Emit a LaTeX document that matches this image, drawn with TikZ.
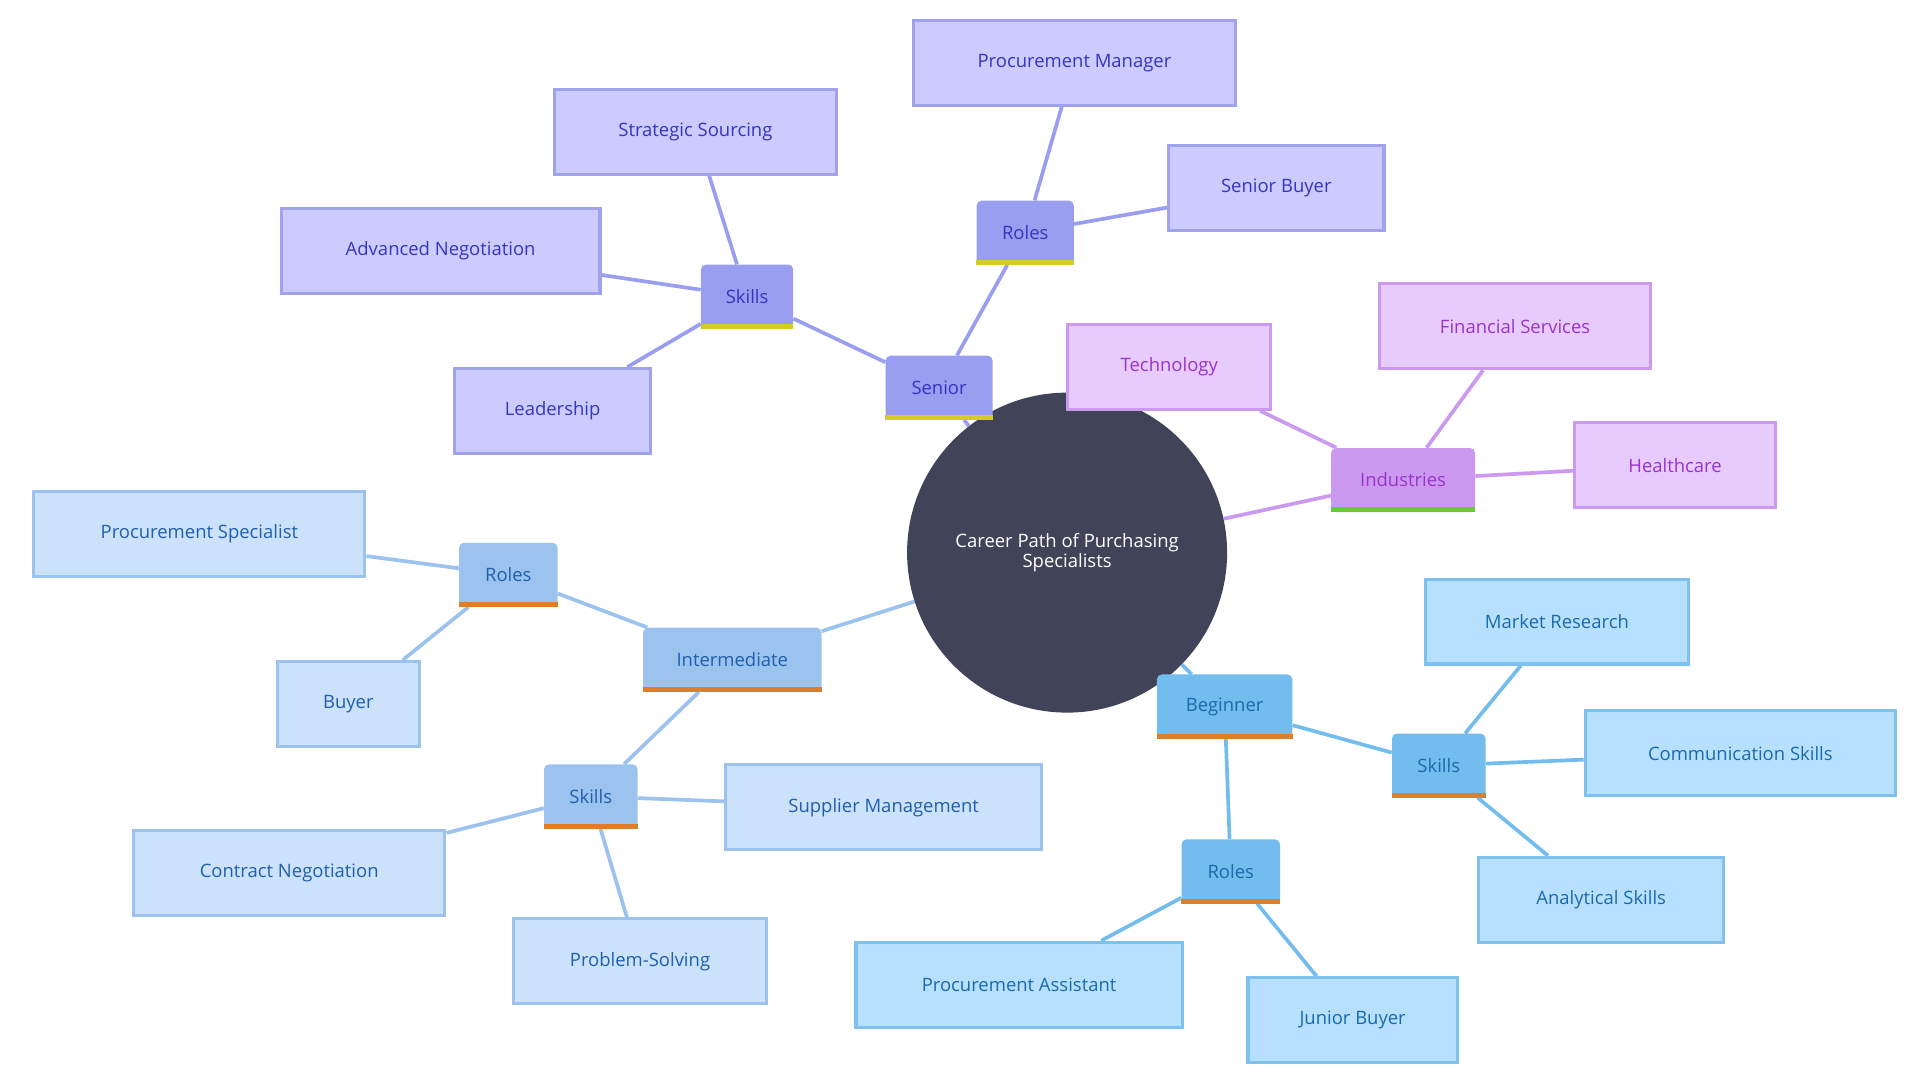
\documentclass[tikz,border=0pt]{standalone}
\usepackage{fontspec}
\setmainfont{Open Sans}
\usetikzlibrary{backgrounds}
\definecolor{cc}{HTML}{414359}
\definecolor{sL}{HTML}{9A9EF0}\definecolor{sF}{HTML}{CBCBFE}\definecolor{sB}{HTML}{A0A3EB}\definecolor{sT}{HTML}{3535C0}
\definecolor{iL}{HTML}{9CC2EE}\definecolor{iF}{HTML}{CCE1FA}\definecolor{iB}{HTML}{9CC2EE}\definecolor{iT}{HTML}{1F5FB0}
\definecolor{bL}{HTML}{72BCEE}\definecolor{bF}{HTML}{B7E0FE}\definecolor{bB}{HTML}{7EC0EE}\definecolor{bT}{HTML}{1A6AAA}
\definecolor{nL}{HTML}{CC99F0}\definecolor{nF}{HTML}{E8CBFD}\definecolor{nB}{HTML}{CC99EE}\definecolor{nT}{HTML}{9933CC}
\definecolor{yel}{HTML}{D4CC22}\definecolor{ora}{HTML}{DD7F2A}\definecolor{grn}{HTML}{66CC33}
\begin{document}
\begin{tikzpicture}[x=1pt,y=-1pt,
  font=\fontsize{15}{18}\selectfont,
  lvl/.style={rounded corners=4pt,inner sep=0pt,minimum height=52pt},
  leaf/.style={draw,line width=2.5pt,inner sep=0pt,minimum height=69pt},
  S/.style={fill=sL,text=sT},SL/.style={leaf,fill=sF,draw=sB,text=sT},Se/.style={draw=sL,line width=3pt},
  I/.style={fill=iL,text=iT},IL/.style={leaf,fill=iF,draw=iB,text=iT},Ie/.style={draw=iL,line width=3pt},
  B/.style={fill=bL,text=bT},BL/.style={leaf,fill=bF,draw=bB,text=bT},Be/.style={draw=bL,line width=3pt},
  N/.style={fill=nL,text=nT},NL/.style={leaf,fill=nF,draw=nB,text=nT},Ne/.style={draw=nL,line width=3pt},
  ul/.style={line width=4pt}]
\useasboundingbox (0,0) rectangle (1560,877.5);
\node[circle,fill=cc,minimum size=260pt,inner sep=0pt,text=white,align=center,font=\fontsize{15}{17}\selectfont] (c) at (867,449) {Career Path of Purchasing\\Specialists};
% Senior
\node[lvl,S,minimum width=87pt] (sen) at (763,315) {Senior};
\node[lvl,S,minimum width=75pt] (ssk) at (607,241) {Skills};
\node[lvl,S,minimum width=79pt] (sro) at (833,189) {Roles};
\node[SL,minimum width=229pt] (ss) at (565,107) {Strategic Sourcing};
\node[SL,minimum width=259pt] (an) at (358,204) {Advanced Negotiation};
\node[SL,minimum width=159pt] (le) at (449,334) {Leadership};
\node[SL,minimum width=261pt] (pm) at (873,51) {Procurement Manager};
\node[SL,minimum width=175pt] (sb) at (1037,153) {Senior Buyer};
% Industries
\node[lvl,N,minimum width=117pt] (ind) at (1140,390) {Industries};
\node[NL,minimum width=165pt] (te) at (950,298) {Technology};
\node[NL,minimum width=220pt] (fs) at (1231,265) {Financial Services};
\node[NL,minimum width=163pt] (hc) at (1361,378) {Healthcare};
% Intermediate
\node[lvl,I,minimum width=145pt] (int) at (595,536) {Intermediate};
\node[lvl,I,minimum width=80pt] (iro) at (413,467) {Roles};
\node[IL,minimum width=269pt] (ps) at (162,434) {Procurement Specialist};
\node[IL,minimum width=115pt] (bu) at (283,572) {Buyer};
\node[lvl,I,minimum width=76pt] (isk) at (480,647) {Skills};
\node[IL,minimum width=257pt] (sm) at (718,656) {Supplier Management};
\node[IL,minimum width=253pt] (cn) at (235,709) {Contract Negotiation};
\node[IL,minimum width=206pt] (pso) at (520,781) {Problem-Solving};
% Beginner
\node[lvl,B,minimum width=110pt] (beg) at (995,574) {Beginner};
\node[lvl,B,minimum width=76pt] (bsk) at (1169,622) {Skills};
\node[lvl,B,minimum width=80pt] (bro) at (1000,708) {Roles};
\node[BL,minimum width=214pt] (mr) at (1265,505) {Market Research};
\node[BL,minimum width=252pt] (cs) at (1414,612) {Communication Skills};
\node[BL,minimum width=199pt] (as) at (1301,731) {Analytical Skills};
\node[BL,minimum width=265pt] (pa) at (828,800) {Procurement Assistant};
\node[BL,minimum width=170pt] (jb) at (1099,829) {Junior Buyer};
% underlines
\foreach \n/\c in {sen/yel,ssk/yel,sro/yel,ind/grn,int/ora,iro/ora,isk/ora,beg/ora,bsk/ora,bro/ora}
  \draw[ul,draw=\c] ([yshift=2pt]\n.south west) -- ([yshift=2pt]\n.south east);
\begin{scope}[on background layer]
\draw[Se] (c)--(sen) (sen)--(ssk) (sen)--(sro) (ssk)--(ss) (ssk)--(an) (ssk)--(le) (sro)--(pm) (sro)--(sb);
\draw[Ne] (c)--(ind) (ind)--(te) (ind)--(fs) (ind)--(hc);
\draw[Ie] (c)--(int) (int)--(iro) (int)--(isk) (iro)--(ps) (iro)--(bu) (isk)--(sm) (isk)--(cn) (isk)--(pso);
\draw[Be] (c)--(beg) (beg)--(bsk) (beg)--(bro) (bsk)--(mr) (bsk)--(cs) (bsk)--(as) (bro)--(pa) (bro)--(jb);
\end{scope}
\end{tikzpicture}
\end{document}
